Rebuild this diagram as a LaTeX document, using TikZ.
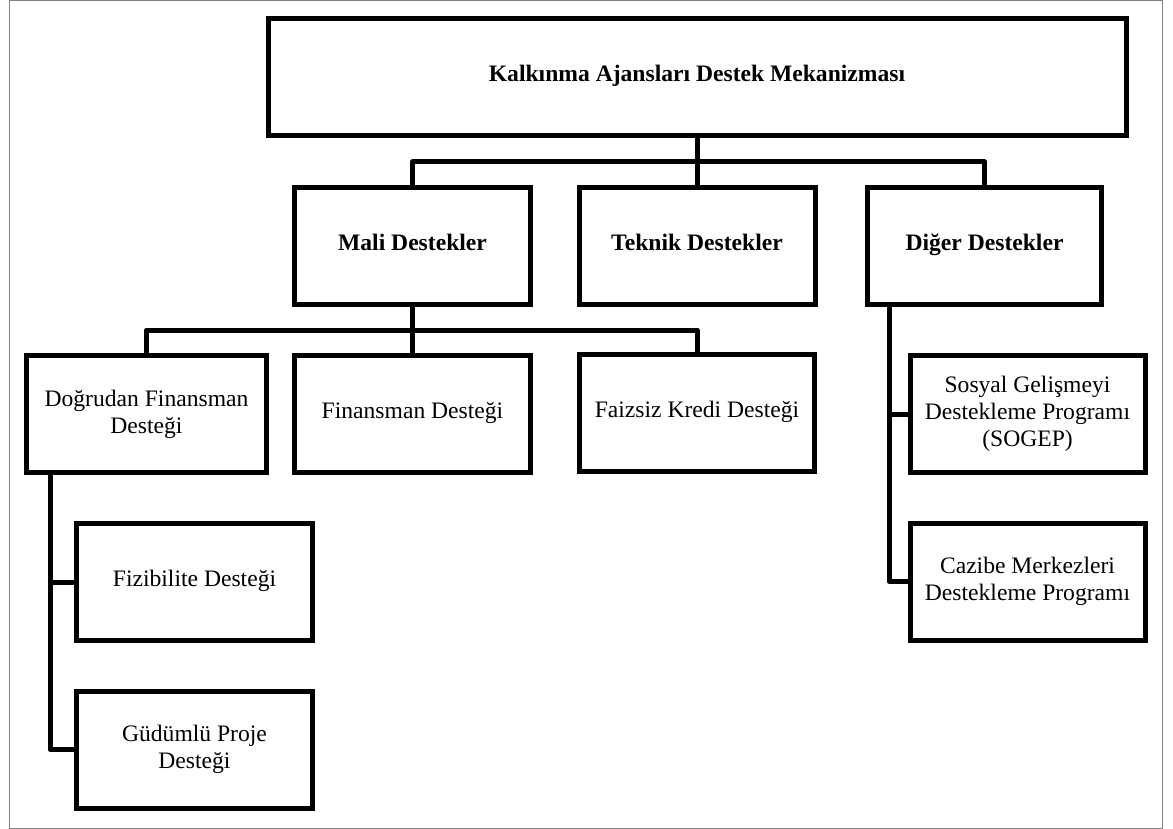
\documentclass[tikz,border=0pt]{standalone}
\usepackage{fontspec}
\setmainfont{Liberation Serif}
\usepackage{tikz}
\usetikzlibrary{positioning}

\begin{document}
\begin{tikzpicture}[x=0.5pt, y=-0.5pt,
  kutu/.style={draw, line width=2.5pt, minimum width=118pt, minimum height=58.5pt,
    align=center, inner sep=2pt, font=\fontsize{11.8}{13.4}\selectfont},
  tek/.style={kutu, text height=0.7em, text depth=0.22em},
  baslik/.style={tek, font=\fontsize{11.8}{13.4}\selectfont\bfseries},
  baglanti/.style={line width=2.5pt, line join=round}]
\useasboundingbox (0,0) rectangle (1173,829);
\draw [gray, line width=0.5pt] (9,1) rectangle (1162,828);

% ana kutu ve birinci duzey
\node (ana) at (697,77) [baslik, minimum width=429pt] {Kalkınma Ajansları Destek Mekanizması};
\node (mali) at (412.5,246) [baslik] {Mali Destekler};
\node (teknik) at (697,246) [baslik] {Teknik Destekler};
\node (diger) at (984.5,246) [baslik, minimum width=117pt] {Diğer Destekler};

% mali destekler alti
\node (dogrudan) at (146.5,414) [kutu, minimum width=120pt] {Doğrudan Finansman\\Desteği};
\node (finansman) at (412.5,413.5) [tek] {Finansman Desteği};
\node (faizsiz) at (697,413) [tek, minimum width=117.5pt] {Faizsiz Kredi Desteği};

% dogrudan finansman alti
\node (fizibilite) at (194.5,582) [tek] {Fizibilite Desteği};
\node (gudumlu) at (194.5,749.5) [kutu] {Güdümlü Proje\\Desteği};

% diger destekler alti
\node (sogep) at (1027.5,414) [kutu, minimum width=117.5pt] {Sosyal Gelişmeyi\\Destekleme Programı\\(SOGEP)};
\node (cazibe) at (1027.5,581.5) [kutu, minimum width=117.5pt] {Cazibe Merkezleri\\Destekleme Programı};

\coordinate (ust) at (697,162);
\coordinate (orta) at (412.5,330);
\coordinate (dsol) at (50,0);
\coordinate (gsol) at (889,0);

\draw [baglanti] (ana.south) -- (teknik.north);
\draw [baglanti] (mali.north) |- (ust) -| (diger.north);

\draw [baglanti] (mali.south) -- (finansman.north);
\draw [baglanti] (dogrudan.north) |- (orta) -| (faizsiz.north);

\draw [baglanti] (dogrudan.south -| dsol) |- (gudumlu.west);
\draw [baglanti] (fizibilite.west) -- (fizibilite.west -| dsol);

\draw [baglanti] (diger.south -| gsol) |- (cazibe.west);
\draw [baglanti] (sogep.west) -- (sogep.west -| gsol);
\end{tikzpicture}
\end{document}
